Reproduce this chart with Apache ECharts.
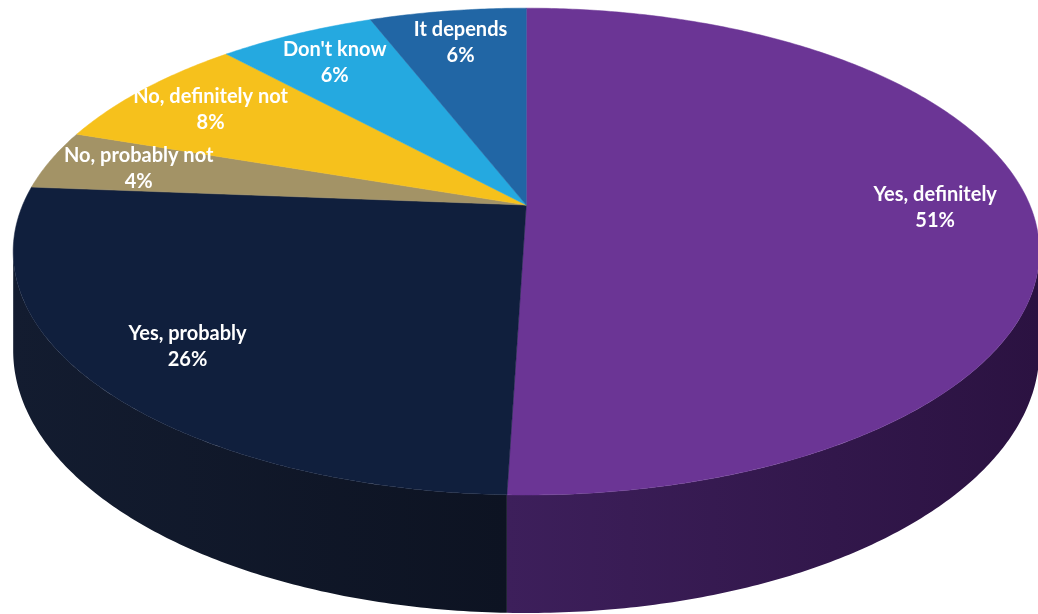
<!DOCTYPE html>
<html>
<head>
<meta charset="utf-8">
<script src="https://cdn.jsdelivr.net/npm/echarts@6/dist/echarts.min.js"></script>
<style>
html,body{margin:0;padding:0;background:#fff;}
#chart{width:1038px;height:614px;}
</style>
</head>
<body>
<div id="chart"></div>
<script>
// ---- data ----
const categories = ['Yes, definitely', 'Yes, probably', 'No, probably not', 'No, definitely not', "Don't know", 'It depends'];
const values = [51, 26, 4, 8, 6, 6];

// ---- styles ----
const topColors = ['#6b3595', '#101f3d', '#a39366', '#f6c11c', '#25a9e0', '#2166a5'];
const sideColors = [['#3d1f5b', '#2b1241'], ['#131c30', '#0d1322'], ['#6e6243', '#5a5036'], ['#b08a12', '#8f700e'], ['#1a7aa3', '#145f80'], ['#184b79', '#123a5e']];

const total = values.reduce((s, v) => s + v, 0);
const starts = [];
let acc = 0;
values.forEach(v => { starts.push(acc / total * Math.PI * 2); acc += v; });

// projection parameters (fractions of the canvas)
function geom(api) {
  const W = api.getWidth(), H = api.getHeight();
  return { cx: W * 0.507, cy: H * 0.334, a: W * 0.4852, b: H * 0.382, p: 0.191, D: H * 0.1555 };
}
function proj(g, th, r, dz) {
  const u = r * Math.sin(th), v = -r * Math.cos(th);
  const w = 1 - g.p * v;
  return [g.cx + g.a * u / w, g.cy + g.b * v / w + dz / w];
}

function sliceRange(i) {
  const t0 = starts[i];
  const t1 = t0 + values[i] / total * Math.PI * 2;
  return [t0, t1];
}

function renderSide(params, api) {
  const i = params.dataIndex;
  const g = geom(api);
  const [t0, t1] = sliceRange(i);
  const ts = Math.acos(-g.p);
  const a0 = Math.max(t0, ts), a1 = Math.min(t1, Math.PI * 2 - ts);
  if (a1 <= a0) return { type: 'group', children: [] };
  const n = Math.max(4, Math.ceil((a1 - a0) / 0.01));
  const pts = [];
  for (let k = 0; k <= n; k++) pts.push(proj(g, a0 + (a1 - a0) * k / n, 1, 0));
  for (let k = n; k >= 0; k--) pts.push(proj(g, a0 + (a1 - a0) * k / n, 1, g.D));
  return {
    type: 'polygon',
    shape: { points: pts },
    style: {
      fill: new echarts.graphic.LinearGradient(0, 0, 1, 0, [
        { offset: 0, color: sideColors[i][0] },
        { offset: 1, color: sideColors[i][1] }
      ]),
      stroke: null
    }
  };
}

function renderTop(params, api) {
  const i = params.dataIndex;
  const g = geom(api);
  const [t0, t1] = sliceRange(i);
  const n = Math.max(4, Math.ceil((t1 - t0) / 0.01));
  const pts = [[g.cx, g.cy]];
  for (let k = 0; k <= n; k++) pts.push(proj(g, t0 + (t1 - t0) * k / n, 1, 0));
  const mid = (t0 + t1) / 2;
  const lp = proj(g, mid, 0.81, 0);
  return {
    type: 'group',
    children: [
      { type: 'polygon', shape: { points: pts }, style: { fill: topColors[i], stroke: topColors[i], lineWidth: 0.5 } },
      {
        type: 'text', x: lp[0], y: lp[1], z2: 100,
        style: {
          text: categories[i] + '\n' + api.value(0) + '%',
          fill: '#ffffff', fontFamily: 'Lato', fontWeight: 'bold', fontSize: 20,
          lineHeight: 26, align: 'center', verticalAlign: 'middle'
        }
      }
    ]
  };
}

const seriesData = categories.map((c, i) => ({ name: c, value: values[i] }));

const chart = echarts.init(document.getElementById('chart'), null, { renderer: 'canvas' });
chart.setOption({
  backgroundColor: '#ffffff',
  animation: false,
  series: [
    { type: 'custom', name: 'sides', coordinateSystem: 'none', z: 1, data: seriesData, renderItem: renderSide, silent: true },
    { type: 'custom', name: 'tops', coordinateSystem: 'none', z: 2, data: seriesData, renderItem: renderTop, silent: true }
  ]
});
</script>
</body>
</html>
